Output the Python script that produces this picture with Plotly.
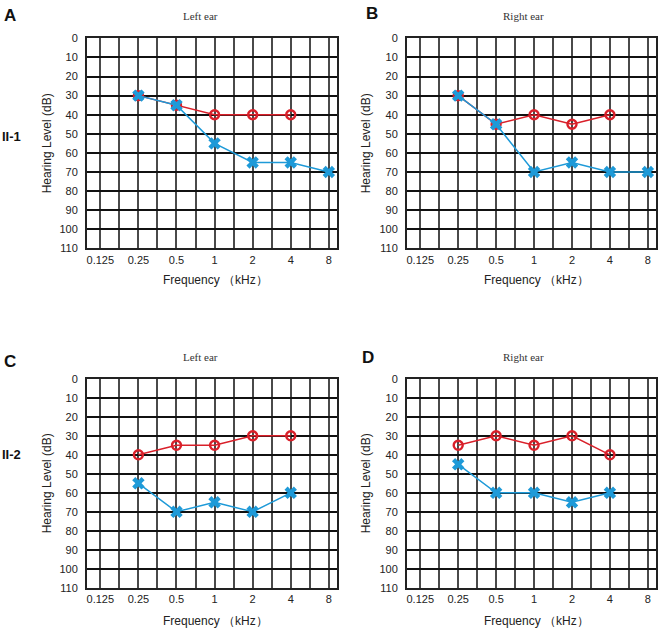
import math
import plotly.graph_objects as go

freqs_red = [0.25, 0.5, 1, 2, 4]
freqs_blue_top = [0.25, 0.5, 1, 2, 4, 8]
freqs_blue_bottom = [0.25, 0.5, 1, 2, 4]

a_red = [30, 35, 40, 40, 40]
a_blue = [30, 35, 55, 65, 65, 70]
b_red = [30, 45, 40, 45, 40]
b_blue = [30, 45, 70, 65, 70, 70]
c_red = [40, 35, 35, 30, 30]
c_blue = [55, 70, 65, 70, 60]
d_red = [35, 30, 35, 30, 40]
d_blue = [45, 60, 60, 65, 60]

tick_freqs = [0.125, 0.25, 0.5, 1, 2, 4, 8]
tick_labels = ["0.125", "0.25", "0.5", "1", "2", "4", "8"]
y_ticks = list(range(0, 111, 10))

W, H = 659, 635
RED = "#d9202a"
BLUE = "#1e9ad8"

fig = go.Figure()

# grid values: octaves and half-octaves
grid_vals = []
grid_text = []
for i, f in enumerate(tick_freqs):
    grid_vals.append(f)
    grid_text.append(tick_labels[i])
    if i < len(tick_freqs) - 1:
        grid_vals.append(f * math.sqrt(2))
        grid_text.append("")

lo = math.log10(0.125) - 0.35 * math.log10(2)
hi = math.log10(8) + 0.215 * math.log10(2)

def px_x(p):
    return p / W

def px_y(p):
    return 1 - p / H

panels = [
    ((87, 337), (33, 247), a_red, a_blue, freqs_blue_top),
    ((407, 656), (33, 247), b_red, b_blue, freqs_blue_top),
    ((87, 337), (380, 593), c_red, c_blue, freqs_blue_bottom),
    ((407, 656), (380, 593), d_red, d_blue, freqs_blue_bottom),
]

for k, (xd, yd, red, blue, bf) in enumerate(panels):
    idx = "" if k == 0 else str(k + 1)
    xa = "x" + idx
    ya = "y" + idx
    fig.add_trace(go.Scatter(
        x=freqs_red, y=red, xaxis=xa, yaxis=ya, mode="lines+markers",
        line=dict(color=RED, width=1.5),
        marker=dict(symbol="circle-open", size=9, color=RED, line=dict(width=2.4, color=RED)),
        showlegend=False, cliponaxis=False))
    fig.add_trace(go.Scatter(
        x=bf, y=blue, xaxis=xa, yaxis=ya, mode="lines+markers",
        line=dict(color=BLUE, width=1.5),
        marker=dict(symbol="x", size=11, color=BLUE, line=dict(width=0)),
        showlegend=False, cliponaxis=False))
    fig.layout["xaxis" + idx] = dict(
        type="log", range=[lo, hi], domain=[px_x(xd[0]), px_x(xd[1])],
        anchor=ya, tickmode="array", tickvals=grid_vals, ticktext=grid_text,
        showgrid=True, gridcolor="#4a4a4a", gridwidth=2, zeroline=False,
        showline=True, linecolor="#222222", linewidth=2, mirror=True,
        ticks="", tickfont=dict(family="Liberation Sans, Arial", size=11, color="#222222"),
        fixedrange=True)
    fig.layout["yaxis" + idx] = dict(
        range=[110, 0], domain=[px_y(yd[1]), px_y(yd[0])], anchor=xa,
        tickmode="array", tickvals=y_ticks,
        showgrid=True, gridcolor="#111111", gridwidth=1.8, zeroline=False,
        showline=True, linecolor="#222222", linewidth=2, mirror=True,
        ticks="", ticklabelstandoff=5,
        tickfont=dict(family="Liberation Sans, Arial", size=11, color="#222222"),
        fixedrange=True)

ann = []
def text(x, y, s, size, bold=False, family="Liberation Sans, Arial", angle=0, color="#111111"):
    ann.append(dict(x=x / W, y=1 - y / H, xref="paper", yref="paper", text=("<b>%s</b>" % s) if bold else s,
                    showarrow=False, xanchor="center", yanchor="middle", textangle=angle,
                    font=dict(family=family, size=size, color=color)))

serif = "Liberation Serif, Times New Roman, serif"
text(10, 10, "A", 17, bold=True)
text(372, 8, "B", 17, bold=True)
text(10, 362, "C", 17, bold=True)
text(368, 358, "D", 17, bold=True)
text(11, 133, "II-1", 13, bold=True)
text(11, 457, "II-2", 13, bold=True)
text(200, 10, "Left ear", 11, family=serif, color="#333333")
text(523, 10, "Right ear", 11, family=serif, color="#333333")
text(200, 358, "Left ear", 11, family=serif, color="#333333")
text(523, 358, "Right ear", 11, family=serif, color="#333333")
for (cx, top, bot) in [(47, 33, 247), (366, 33, 247), (47, 380, 593), (366, 380, 593)]:
    text(cx, (top + bot) / 2, "Hearing Level (dB)", 12, angle=-90, color="#222222")
for (cx, cy) in [(215, 279), (536, 279), (215, 627), (536, 627)]:
    text(cx, cy, "Frequency （kHz）", 12, color="#222222")

fig.update_layout(width=W, height=H, margin=dict(l=0, r=0, t=0, b=0),
                  paper_bgcolor="white", plot_bgcolor="white", annotations=ann)

fig.write_html("out.html", config={"displayModeBar": False},
               post_script="document.body.style.margin='0';document.body.style.overflow='hidden';")
